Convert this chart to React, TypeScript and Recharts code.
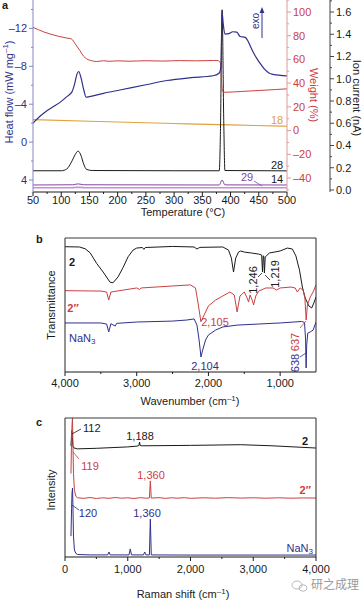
import React from "react";
import { LineChart, Line, XAxis, YAxis } from "recharts";

const FONT = '"Liberation Sans", Arial, Helvetica, sans-serif';
const NAVY = "#30308c";
const RED = "#cc4040";
const ORANGE = "#e0a23c";
const PURPLE = "#8445a6";
const PINK = "#c690d2";
const INK = "#1a1a1a";
const FRAME = "#3a3a3a";

// ---------- panel a: DSC / TGA / MS vs temperature ----------
const heatFlow: [number, number][] = [
  [50, -2.0], [60, -2.6], [70, -3.1], [85, -3.7], [100, -4.3], [110, -4.8], [119, -5.3],
  [124, -6.2], [128, -7.2], [131, -7.45], [135, -6.8], [140, -5.5], [144, -4.75], [150, -4.8],
  [175, -5.15], [204, -5.5], [250, -6.05], [287, -6.5], [330, -6.8], [369, -7.0], [380, -7.3],
  [383, -8.0], [385, -13.7], [387, -12.5], [390, -11.4], [397, -11.45], [404, -11.65],
  [411, -11.6], [417, -11.15], [426, -11.05], [431, -10.65], [436, -10.0], [440, -9.5],
  [449, -8.6], [455, -8.1], [461, -7.65], [468, -7.3], [475, -7.15], [500, -7.0],
];
const weight: [number, number][] = [
  [50, 87], [60, 85], [70, 83], [80, 81.5], [95, 79.5], [110, 78], [118, 77.3], [125, 73],
  [133, 67.5], [140, 62.5], [145, 60.5], [155, 58.8], [163, 58.2], [175, 58.9], [185, 58.4],
  [200, 58.8], [220, 58.5], [250, 58.9], [280, 58.6], [310, 59.0], [340, 58.8], [370, 59.1],
  [378, 59], [382, 57], [384, 40], [386, 33], [390, 32.3], [420, 33], [450, 33.8], [480, 34.6],
  [500, 35.2],
];
const ion18: [number, number][] = [[50, 0.632], [150, 0.618], [300, 0.598], [400, 0.585], [500, 0.573]];
const ion28: [number, number][] = [
  [50, 0.173], [100, 0.173], [110, 0.19], [118, 0.25], [125, 0.32], [130, 0.35], [135, 0.31],
  [140, 0.23], [145, 0.185], [155, 0.175], [300, 0.173], [380, 0.173], [382, 0.5], [385, 1.62],
  [388, 0.6], [390, 0.175], [500, 0.172],
];
const ion29: [number, number][] = [
  [50, 0.045], [120, 0.047], [130, 0.055], [140, 0.047], [380, 0.045], [385, 0.09], [390, 0.046], [500, 0.045],
];
const ion14: [number, number][] = [[50, 0.02], [120, 0.021], [130, 0.025], [140, 0.021], [500, 0.02]];

const tempTicks = [50, 75, 100, 125, 150, 175, 200, 225, 250, 275, 300, 325, 350, 375, 400, 425, 450, 475, 500];
const tempMajor = [50, 100, 150, 200, 250, 300, 350, 400, 450, 500];
const hfTicks = [-14, -12, -10, -8, -6, -4, -2, 0, 2, 4];
const hfMajor = [-12, -8, -4, 0, 4];
const wTicks = [-50, -40, -30, -20, -10, 0, 10, 20, 30, 40, 50, 60, 70, 80, 90, 100, 110];
const wMajor = [-40, -20, 0, 20, 40, 60, 80, 100];
const ionTicks = [0, 0.1, 0.2, 0.3, 0.4, 0.5, 0.6, 0.7, 0.8, 0.9, 1.0, 1.1, 1.2, 1.3, 1.4, 1.5, 1.6, 1.7];
const ionMajor = [0, 0.2, 0.4, 0.6, 0.8, 1.0, 1.2, 1.4, 1.6];

// ---------- panel b: IR spectra ----------
const irTwo: [number, number][] = [
  [4000, 93.5], [3800, 93.3], [3720, 92], [3650, 89], [3558, 81], [3468, 74.6], [3372, 67],
  [3330, 66.6], [3260, 71], [3190, 78], [3120, 86], [3050, 91], [3000, 92.5], [2920, 92.9],
  [2900, 91.5], [2880, 92.9], [2500, 93.7], [2200, 93.3], [2160, 91.8], [2120, 93], [1800, 93.3],
  [1720, 91], [1680, 85], [1650, 74.6], [1620, 85], [1580, 89.5], [1550, 90.3], [1500, 89.5],
  [1400, 88.8], [1300, 88], [1258, 87.3], [1246, 74.6], [1236, 86.6], [1228, 86.6], [1219, 73.9],
  [1208, 85.8], [1150, 88.8], [1000, 90.3], [900, 92.5], [830, 91.8], [780, 86.6], [730, 76],
  [690, 63.4], [650, 55.2], [600, 49.3], [560, 47.8], [530, 51.5], [500, 56],
];
const irTwoPP: [number, number][] = [
  [4000, 60.7], [3500, 60.4], [3420, 59.7], [3390, 53.7], [3360, 59.7], [3000, 62.7], [2960, 61.5],
  [2940, 62.7], [2500, 64.2], [2250, 65], [2180, 62.7], [2140, 50], [2105, 37.5], [2060, 42.5],
  [2000, 49.3], [1900, 53.7], [1800, 56.7], [1700, 59.7], [1640, 57.5], [1600, 44.8], [1560, 56.7],
  [1500, 59.7], [1460, 55.2], [1440, 52.2], [1420, 57.5], [1390, 53.7], [1370, 50], [1340, 56.7],
  [1300, 60.4], [1200, 62.7], [1100, 62.7], [1050, 61.2], [1000, 62.7], [850, 63.4], [790, 62.7],
  [760, 59.7], [720, 62.7], [680, 61], [655, 55], [637, 38.8], [620, 50], [580, 56], [540, 59.7],
  [500, 65],
];
const irNaN3: [number, number][] = [
  [4000, 36.6], [3500, 36.6], [3420, 35.8], [3390, 29.9], [3360, 36], [3300, 34.3], [3280, 36.3],
  [3000, 37.3], [2500, 38], [2300, 38.8], [2200, 39.6], [2160, 35], [2130, 23.9], [2104, 11.2],
  [2080, 16.4], [2040, 23.9], [2000, 27.6], [1900, 31.3], [1800, 33.6], [1600, 35], [1300, 35.8],
  [1000, 36.6], [700, 37.7], [660, 37], [645, 23.9], [638, 3], [630, 20], [615, 29], [580, 29.9],
  [540, 31.3], [500, 37.3],
];
const wnTicks = [1000, 1500, 2000, 2500, 3000, 3500, 4000];
const wnMajor = [1000, 2000, 3000, 4000];

// ---------- panel c: Raman spectra ----------
const ramanTwo: [number, number][] = [
  [95, 80], [105, 88], [112, 91], [118, 86], [125, 80], [140, 78.5], [200, 77.8], [500, 78.2],
  [1000, 79.2], [1150, 79.8], [1178, 80.2], [1188, 82.7], [1198, 80.2], [1230, 80], [2000, 80.3],
  [2800, 80.8], [3300, 80], [4000, 78.4],
];
const ramanTwoPP: [number, number][] = [
  [95, 60], [105, 85], [112, 95], [119, 100], [125, 85], [135, 60], [150, 48], [175, 43.5],
  [200, 42.6], [300, 42.2], [400, 42.8], [500, 42.1], [600, 42.6], [700, 42.2], [800, 42.8],
  [900, 42.3], [1000, 42.6], [1100, 42.1], [1200, 42.7], [1300, 42.3], [1345, 42.5], [1360, 54.7],
  [1375, 42.4], [1500, 42.7], [1600, 42.2], [1700, 42.6], [1800, 42.3], [1900, 42.7], [2000, 42.2],
  [2200, 42.6], [2400, 42.3], [2600, 42.7], [2800, 42.4], [3000, 42.6], [3200, 42.3], [3400, 42.6],
  [3600, 42.3], [3800, 42.5], [4000, 42.4],
];
const ramanNaN3: [number, number][] = [
  [95, 15], [105, 35], [112, 46], [120, 49.6], [126, 38], [135, 15], [150, 5], [175, 2.5],
  [200, 1.8], [400, 1.5], [680, 1.5], [700, 3.6], [720, 1.5], [1020, 1.5], [1040, 5.8], [1060, 1.5],
  [1250, 1.5], [1270, 3.6], [1290, 1.5], [1345, 1.5], [1360, 27.3], [1375, 1.5], [2000, 1.4],
  [3000, 1.4], [4000, 1.4],
];
const ramanTicks = [0, 500, 1000, 1500, 2000, 2500, 3000, 3500, 4000];
const ramanMajor = [0, 1000, 2000, 3000, 4000];

const pts = (arr: [number, number][]) => arr.map(([x, y]) => ({ x, y }));
const comma = (v: number) => v.toLocaleString("en-US");
const dash = (v: number) => (v < 0 ? "–" + Math.abs(v) : String(v));

type Side = "left" | "right" | "bottom";
function makeTick(side: Side, majors: number[], color: string, lineColor: string, fmt: (v: number) => string, labelDy = 12) {
  return (p: any) => {
    const v = p.payload.value;
    const major = majors.some((m) => Math.abs(m - v) < 1e-6);
    const len = major ? 4 : 2;
    const txt = { fill: color, fontSize: 11, fontFamily: FONT };
    if (side === "left") {
      return (
        <g>
          <line x1={p.x} x2={p.x - len} y1={p.y} y2={p.y} stroke={lineColor} />
          {major && <text x={p.x - 6} y={p.y} dy="0.35em" textAnchor="end" {...txt}>{fmt(v)}</text>}
        </g>
      );
    }
    if (side === "right") {
      return (
        <g>
          <line x1={p.x} x2={p.x + len} y1={p.y} y2={p.y} stroke={lineColor} />
          {major && <text x={p.x + 6} y={p.y} dy="0.35em" textAnchor="start" {...txt}>{fmt(v)}</text>}
        </g>
      );
    }
    return (
      <g>
        <line x1={p.x} x2={p.x} y1={p.y} y2={p.y + len} stroke={lineColor} />
        {major && <text x={p.x} y={p.y + labelDy} textAnchor="middle" {...txt}>{fmt(v)}</text>}
      </g>
    );
  };
}

const noAnim = { isAnimationActive: false, dot: false, activeDot: false } as const;

function PanelA() {
  return (
    <LineChart width={364} height={225} margin={{ top: 0, right: 0, bottom: 0, left: 0 }}>
      <XAxis xAxisId="t" dataKey="x" type="number" domain={[50, 500]} ticks={tempTicks} interval={0}
        height={33} tickSize={0} tickMargin={0} axisLine={{ stroke: INK }} tickLine={false}
        tick={makeTick("bottom", tempMajor, INK, INK, String, 12)} allowDataOverflow />
      <YAxis yAxisId="l1" orientation="left" width={33} type="number" domain={[-15, 5.27]} reversed
        ticks={hfTicks} interval={0} tickSize={0} tickMargin={0} axisLine={{ stroke: "#8585c4" }} tickLine={false}
        tick={makeTick("left", hfMajor, NAVY, "#8585c4", dash)} allowDataOverflow />
      <YAxis yAxisId="r2" orientation="right" width={34} type="number" domain={[-0.018, 1.708]}
        ticks={ionTicks} interval={0} tickSize={0} tickMargin={0} axisLine={{ stroke: "#444" }} tickLine={false}
        tick={makeTick("right", ionMajor, INK, "#444", (v) => v.toFixed(1))} allowDataOverflow />
      <YAxis yAxisId="r1" orientation="right" width={43} type="number" domain={[-51.8, 110.1]}
        ticks={wTicks} interval={0} tickSize={0} tickMargin={0} axisLine={{ stroke: "#e09a9a" }} tickLine={false}
        tick={makeTick("right", wMajor, RED, "#e09a9a", dash)} allowDataOverflow />
      <Line xAxisId="t" yAxisId="r2" data={pts(ion14)} dataKey="y" type="linear" stroke={PINK} strokeWidth={1.6} {...noAnim} />
      <Line xAxisId="t" yAxisId="r2" data={pts(ion29)} dataKey="y" type="monotone" stroke={PURPLE} strokeWidth={1} {...noAnim} />
      <Line xAxisId="t" yAxisId="r2" data={pts(ion18)} dataKey="y" type="monotone" stroke={ORANGE} strokeWidth={1.2} {...noAnim} />
      <Line xAxisId="t" yAxisId="r2" data={pts(ion28)} dataKey="y" type="monotone" stroke={INK} strokeWidth={1} {...noAnim} />
      <Line xAxisId="t" yAxisId="r1" data={pts(weight)} dataKey="y" type="monotone" stroke={RED} strokeWidth={1} {...noAnim} />
      <Line xAxisId="t" yAxisId="l1" data={pts(heatFlow)} dataKey="y" type="monotone" stroke={NAVY} strokeWidth={1.2} {...noAnim} />
    </LineChart>
  );
}

function Spectrum({ height, plotH, domain, reversed, ticks, majors, labelDy, series }: {
  height: number; plotH: number; domain: [number, number]; reversed: boolean; ticks: number[]; majors: number[]; labelDy: number;
  series: { d: [number, number][]; c: string }[];
}) {
  return (
    <LineChart width={364} height={height} margin={{ top: 8, right: 48, bottom: 0, left: 65 }}>
      <XAxis xAxisId="b" dataKey="x" type="number" domain={domain} reversed={reversed} ticks={ticks} interval={0}
        height={height - 8 - plotH} tickSize={0} tickMargin={0} axisLine={{ stroke: INK }}
        tickLine={false} tick={makeTick("bottom", majors, INK, INK, comma, labelDy)} allowDataOverflow />
      <YAxis yAxisId="l" type="number" domain={[0, 100]} hide allowDataOverflow />
      {series.map((s, i) => (
        <Line key={i} xAxisId="b" yAxisId="l" data={pts(s.d)} dataKey="y" type="linear" stroke={s.c} strokeWidth={1} {...noAnim} />
      ))}
    </LineChart>
  );
}

const T = { fontFamily: FONT, fontSize: 11 } as const;

// box around a plot area: top, left and right sides (the x axis draws the bottom)
function Frame({ x0, y0, x1, y1 }: { x0: number; y0: number; x1: number; y1: number }) {
  return (
    <g stroke={FRAME} strokeWidth={1.1}>
      <line x1={x0} y1={y0} x2={x1} y2={y0} />
      <line x1={x0} y1={y0} x2={x0} y2={y1} />
      <line x1={x1} y1={y0} x2={x1} y2={y1} />
    </g>
  );
}

function Overlay() {
  return (
    <svg width={364} height={600} viewBox="0 0 364 600" style={{ position: "absolute", left: 0, top: 0, pointerEvents: "none", zIndex: 2 }}>
      <Frame x0={65} y0={238} x1={316} y1={372} />
      <Frame x0={65} y0={418} x1={316} y1={557} />

      {/* panel a */}
      <text x={2} y={9} {...T} fontWeight="bold" fill={INK}>a</text>
      <text transform="translate(9,92) rotate(-90)" textAnchor="middle" dominantBaseline="central" {...T} fill={NAVY}>
        Heat flow (mW mg<tspan dy={-4} fontSize={8}>–1</tspan><tspan dy={4}>)</tspan>
      </text>
      <text transform="translate(314,95) rotate(90)" textAnchor="middle" dominantBaseline="central" {...T} fill={RED}>Weight (%)</text>
      <text transform="translate(357,98) rotate(90)" textAnchor="middle" dominantBaseline="central" {...T} fill={INK}>Ion current (nA)</text>
      <text transform="translate(255,21) rotate(-90)" textAnchor="middle" dominantBaseline="central" {...T} fontSize={10} fill={NAVY}>exo</text>
      <line x1={262} y1={38} x2={262} y2={11} stroke={NAVY} strokeWidth={1} />
      <polygon points="262,7 259.6,13 264.4,13" fill={NAVY} />
      <text x={277} y={120} textAnchor="middle" dominantBaseline="central" {...T} fill={ORANGE}>18</text>
      <text x={277} y={165} textAnchor="middle" dominantBaseline="central" {...T} fill={INK}>28</text>
      <text x={277} y={179} textAnchor="middle" dominantBaseline="central" {...T} fill={INK}>14</text>
      <text x={247} y={177} textAnchor="middle" dominantBaseline="central" {...T} fill={PURPLE}>29</text>
      <line x1={254} y1={181} x2={262} y2={186} stroke={PURPLE} strokeWidth={0.8} />
      <text x={183} y={216} textAnchor="middle" {...T} fill={INK}>Temperature (°C)</text>

      {/* panel b */}
      <text x={36} y={243} {...T} fontWeight="bold" fill={INK}>b</text>
      <text transform="translate(51,305) rotate(-90)" textAnchor="middle" dominantBaseline="central" {...T} fill={INK}>Transmittance</text>
      <text x={72} y={262} textAnchor="middle" dominantBaseline="central" {...T} fontWeight="bold" fill={INK}>2</text>
      <text x={73} y={308} textAnchor="middle" dominantBaseline="central" {...T} fontWeight="bold" fill={RED}>2″</text>
      <text x={69} y={338} dominantBaseline="central" {...T} fill={NAVY}>NaN<tspan dy={3} fontSize={8}>3</tspan></text>
      <text x={215} y={322} textAnchor="middle" dominantBaseline="central" {...T} fill={RED}>2,105</text>
      <text x={205} y={366} textAnchor="middle" dominantBaseline="central" {...T} fill={NAVY}>2,104</text>
      <text transform="translate(253,280) rotate(-90)" textAnchor="middle" dominantBaseline="central" {...T} fill={INK}>1,246</text>
      <text transform="translate(275,274) rotate(-90)" textAnchor="middle" dominantBaseline="central" {...T} fill={INK}>1,219</text>
      <line x1={262} y1={273} x2={258} y2={277} stroke={INK} strokeWidth={0.8} />
      <line x1={265} y1={275} x2={270} y2={280} stroke={INK} strokeWidth={0.8} />
      <text transform="translate(295,342) rotate(-90)" textAnchor="middle" dominantBaseline="central" {...T} fill={RED}>637</text>
      <text transform="translate(295,363) rotate(-90)" textAnchor="middle" dominantBaseline="central" {...T} fill={NAVY}>638</text>
      <line x1={306} y1={321} x2={300} y2={328} stroke={RED} strokeWidth={0.8} />
      <line x1={306} y1={353} x2={300} y2={357} stroke={NAVY} strokeWidth={0.8} />
      <text x={190} y={405} textAnchor="middle" {...T} fill={INK}>
        Wavenumber (cm<tspan dy={-4} fontSize={8}>–1</tspan><tspan dy={4}>)</tspan>
      </text>

      {/* panel c */}
      <text x={36} y={426} {...T} fontWeight="bold" fill={INK}>c</text>
      <text transform="translate(51,490) rotate(-90)" textAnchor="middle" dominantBaseline="central" {...T} fill={INK}>Intensity</text>
      <text x={83} y={428} dominantBaseline="central" {...T} fill={INK}>112</text>
      <line x1={72} y1={434} x2={81} y2={429} stroke={INK} strokeWidth={0.8} />
      <text x={140} y={436} textAnchor="middle" dominantBaseline="central" {...T} fill={INK}>1,188</text>
      <text x={308} y={441} textAnchor="end" dominantBaseline="central" {...T} fontWeight="bold" fill={INK}>2</text>
      <text x={90} y={466} textAnchor="middle" dominantBaseline="central" {...T} fill={RED}>119</text>
      <line x1={73} y1={452} x2={79} y2={459} stroke={RED} strokeWidth={0.8} />
      <text x={151} y={475} textAnchor="middle" dominantBaseline="central" {...T} fill={RED}>1,360</text>
      <text x={311} y={490} textAnchor="end" dominantBaseline="central" {...T} fontWeight="bold" fill={RED}>2″</text>
      <text x={88} y={513} textAnchor="middle" dominantBaseline="central" {...T} fill={NAVY}>120</text>
      <line x1={72} y1={505} x2={79} y2={510} stroke={NAVY} strokeWidth={0.8} />
      <text x={147} y={513} textAnchor="middle" dominantBaseline="central" {...T} fill={NAVY}>1,360</text>
      <text x={313} y={548} textAnchor="end" dominantBaseline="central" {...T} fill={NAVY}>NaN<tspan dy={3} fontSize={8}>3</tspan></text>
      <text x={183} y={598} textAnchor="middle" {...T} fill={INK}>
        Raman shift (cm<tspan dy={-4} fontSize={8}>–1</tspan><tspan dy={4}>)</tspan>
      </text>
      <ellipse cx={297} cy={585} rx={5} ry={4} fill="none" stroke="#aaa" strokeWidth={0.8} />
      <ellipse cx={303} cy={588} rx={4} ry={3.2} fill="none" stroke="#aaa" strokeWidth={0.8} />
      <text x={311} y={589} fontFamily='"Noto Sans CJK SC", sans-serif' fontSize={12} fill="#9a9a9a">研之成理</text>
    </svg>
  );
}

export default function App() {
  return (
    <div style={{ position: "absolute", left: 0, top: 0, width: 364, height: 600, background: "#fff", overflow: "hidden" }}>
      <div style={{ position: "absolute", left: 0, top: 0 }}>
        <PanelA />
      </div>
      <div style={{ position: "absolute", left: 0, top: 230 }}>
        <Spectrum height={180} plotH={134} domain={[500, 4000]} reversed ticks={wnTicks} majors={wnMajor} labelDy={15}
          series={[{ d: irTwo, c: INK }, { d: irTwoPP, c: RED }, { d: irNaN3, c: NAVY }]} />
      </div>
      <div style={{ position: "absolute", left: 0, top: 410 }}>
        <Spectrum height={190} plotH={139} domain={[0, 4000]} reversed={false} ticks={ramanTicks} majors={ramanMajor} labelDy={16}
          series={[{ d: ramanTwo, c: INK }, { d: ramanTwoPP, c: RED }, { d: ramanNaN3, c: NAVY }]} />
      </div>
      <Overlay />
    </div>
  );
}
